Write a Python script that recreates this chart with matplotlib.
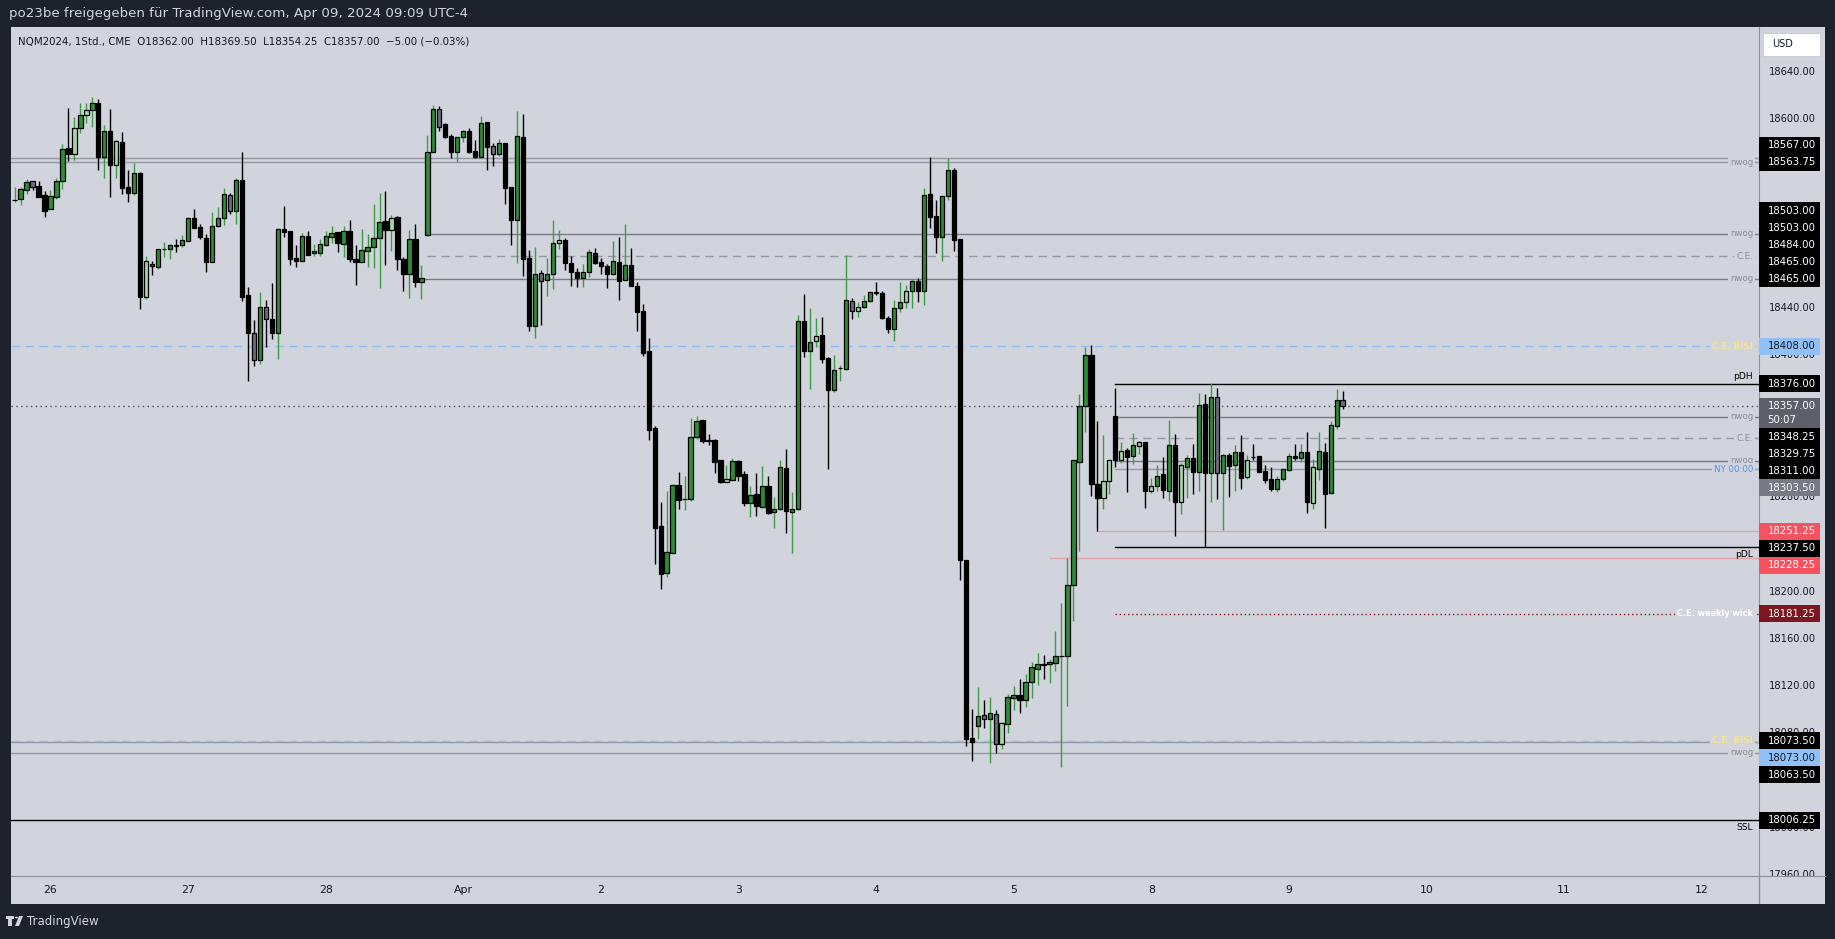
import matplotlib.pyplot as plt
from matplotlib.patches import Rectangle, Polygon, Circle

# NQM2024 1h candles, Mar 25 18:00 .. Apr 09 09:00
opens = [
    18531.5, 18532.2, 18539.9, 18547.8, 18543.3, 18535.6, 18523.8, 18534.5, 18547.5, 18575.4,
    18570.4, 18592.4, 18603.4, 18607.6, 18613.6, 18568.4, 18589.8, 18561.6, 18580.5, 18542.4,
    18537.9, 18554.3, 18449.8, 18477.7, 18475.2, 18490.0, 18489.9, 18493.3, 18493.3, 18496.7,
    18516.1, 18508.5, 18499.5, 18478.9, 18509.9, 18516.1, 18535.6, 18522.1, 18548.3, 18450.9,
    18419.3, 18395.9, 18440.8, 18430.6, 18419.3, 18506.8, 18505.1, 18482.3, 18480.3, 18500.9,
    18486.5, 18487.1, 18493.8, 18500.6, 18504.3, 18494.7, 18505.1, 18481.4, 18478.9, 18488.2,
    18491.6, 18499.2, 18513.6, 18506.0, 18517.0, 18482.0, 18469.3, 18498.3, 18462.5, 18502.3,
    18572.1, 18608.5, 18596.0, 18585.6, 18572.6, 18584.7, 18589.8, 18572.9, 18568.4, 18597.5,
    18577.1, 18570.9, 18579.7, 18542.4, 18515.0, 18584.7, 18482.3, 18425.2, 18469.6, 18464.2,
    18468.7, 18495.0, 18497.5, 18478.0, 18470.4, 18465.3, 18470.4, 18486.5, 18478.9, 18475.8,
    18469.3, 18478.9, 18464.2, 18476.6, 18458.8, 18437.7, 18403.8, 18338.3, 18255.6, 18216.1,
    18233.0, 18290.0, 18278.0, 18278.1, 18330.6, 18345.1, 18328.0, 18328.1, 18311.2, 18293.1,
    18294.8, 18310.3, 18299.6, 18275.4, 18282.4, 18271.9, 18289.2, 18267.2, 18269.7, 18304.4,
    18267.7, 18269.7, 18428.9, 18403.5, 18412.0, 18417.4, 18397.7, 18370.4, 18389.0, 18388.4,
    18446.1, 18437.4, 18440.9, 18446.1, 18453.7, 18452.6, 18431.5, 18422.2, 18440.2, 18445.4,
    18454.7, 18463.0, 18454.4, 18536.6, 18517.9, 18500.7, 18534.9, 18557.3, 18498.6, 18226.6,
    18076.3, 18086.0, 18095.3, 18091.9, 18096.4, 18070.7, 18087.6, 18109.6, 18112.2, 18107.9,
    18123.2, 18134.2, 18138.5, 18138.4, 18139.3, 18145.2, 18145.2, 18205.3, 18310.1, 18356.9,
    18400.1, 18290.9, 18279.6, 18293.4, 18348.5, 18311.2, 18319.7, 18315.1, 18323.6, 18326.4,
    18285.5, 18289.2, 18299.3, 18284.9, 18323.9, 18276.2, 18305.9, 18312.9, 18301.6, 18358.9,
    18300.2, 18364.5, 18300.7, 18315.4, 18307.5, 18318.0, 18297.4, 18314.3, 18314.6, 18302.2,
    18295.1, 18286.6, 18295.4, 18303.3, 18314.6, 18312.9, 18318.0, 18275.3, 18304.1, 18318.0,
    18283.8, 18340.0, 18362.0,
]
highs = [
    18542.4, 18543.0, 18549.5, 18548.0, 18547.8, 18539.3, 18540.1, 18550.0, 18579.1, 18609.3,
    18601.7, 18613.6, 18613.6, 18618.6, 18617.0, 18595.2, 18608.8, 18582.5, 18589.0, 18556.8,
    18563.0, 18555.7, 18484.2, 18480.0, 18490.0, 18496.1, 18494.4, 18498.6, 18502.0, 18517.6,
    18524.0, 18511.0, 18502.9, 18521.5, 18525.7, 18541.6, 18537.6, 18550.0, 18572.1, 18457.7,
    18430.0, 18453.8, 18447.0, 18461.4, 18508.0, 18526.3, 18505.5, 18493.6, 18503.5, 18505.4,
    18494.4, 18498.6, 18505.4, 18509.7, 18504.3, 18509.7, 18514.7, 18493.6, 18507.1, 18502.9,
    18528.3, 18537.6, 18539.3, 18518.7, 18518.0, 18483.0, 18506.3, 18511.3, 18476.6, 18587.0,
    18612.1, 18611.3, 18597.2, 18587.6, 18585.0, 18591.0, 18592.4, 18582.5, 18602.8, 18597.6,
    18580.2, 18583.4, 18580.0, 18542.5, 18607.1, 18604.5, 18489.0, 18491.9, 18472.1, 18482.3,
    18514.8, 18506.3, 18499.2, 18484.3, 18474.1, 18477.5, 18490.2, 18491.3, 18482.6, 18477.2,
    18496.9, 18500.3, 18511.4, 18491.0, 18461.9, 18443.6, 18414.5, 18340.3, 18275.9, 18285.2,
    18291.1, 18301.3, 18297.9, 18347.0, 18348.7, 18345.5, 18333.5, 18329.2, 18311.3, 18307.5,
    18313.2, 18311.2, 18301.9, 18289.5, 18300.5, 18306.4, 18297.9, 18280.1, 18311.5, 18320.8,
    18284.4, 18434.0, 18452.1, 18439.9, 18431.5, 18432.6, 18398.4, 18400.4, 18392.2, 18484.8,
    18448.8, 18445.4, 18451.2, 18454.0, 18462.3, 18454.7, 18433.0, 18446.8, 18462.3, 18459.9,
    18464.0, 18465.5, 18541.8, 18568.0, 18531.8, 18535.0, 18567.3, 18558.7, 18498.6, 18226.6,
    18100.9, 18119.5, 18107.8, 18110.9, 18099.5, 18089.8, 18113.0, 18120.1, 18125.7, 18130.2,
    18140.4, 18148.0, 18146.3, 18142.9, 18166.6, 18190.4, 18228.5, 18311.5, 18367.4, 18406.9,
    18408.9, 18344.5, 18332.6, 18312.3, 18372.2, 18326.4, 18321.6, 18334.3, 18327.6, 18326.5,
    18296.2, 18307.2, 18314.0, 18345.4, 18333.5, 18308.7, 18315.7, 18325.0, 18368.2, 18367.4,
    18376.4, 18372.2, 18316.5, 18317.1, 18323.9, 18332.4, 18315.7, 18325.0, 18314.8, 18307.2,
    18305.3, 18297.9, 18303.8, 18317.1, 18325.0, 18325.0, 18335.2, 18312.0, 18335.2, 18325.9,
    18344.2, 18371.6, 18369.5,
]
lows = [
    18530.3, 18527.5, 18537.0, 18540.4, 18534.5, 18517.6, 18523.8, 18532.8, 18540.7, 18565.0,
    18565.8, 18588.7, 18597.2, 18593.8, 18557.1, 18550.6, 18534.5, 18550.6, 18536.5, 18530.3,
    18535.9, 18439.4, 18447.8, 18468.2, 18473.2, 18483.7, 18481.7, 18487.6, 18492.0, 18496.7,
    18508.0, 18498.3, 18471.0, 18478.9, 18509.0, 18510.8, 18519.8, 18511.6, 18446.4, 18378.6,
    18391.4, 18392.5, 18407.5, 18413.7, 18397.3, 18500.6, 18476.9, 18475.2, 18480.0, 18485.0,
    18484.5, 18484.5, 18493.0, 18495.5, 18487.9, 18483.7, 18479.5, 18460.0, 18478.9, 18475.2,
    18474.3, 18457.4, 18476.9, 18488.8, 18472.7, 18454.9, 18449.0, 18458.3, 18448.1, 18501.5,
    18572.0, 18590.4, 18584.2, 18567.2, 18564.2, 18581.1, 18571.5, 18567.0, 18568.0, 18557.1,
    18560.5, 18569.2, 18528.3, 18493.6, 18478.6, 18467.3, 18421.0, 18415.1, 18426.1, 18450.6,
    18456.6, 18489.9, 18472.7, 18459.1, 18458.3, 18458.3, 18466.7, 18477.5, 18469.0, 18457.4,
    18468.4, 18447.0, 18464.0, 18459.0, 18421.0, 18399.8, 18328.7, 18223.4, 18202.5, 18212.6,
    18232.4, 18270.2, 18269.1, 18276.5, 18329.0, 18325.6, 18324.2, 18300.7, 18292.3, 18293.0,
    18294.5, 18294.0, 18272.5, 18263.5, 18264.3, 18271.0, 18266.0, 18254.2, 18269.0, 18249.9,
    18233.0, 18269.0, 18399.0, 18371.3, 18407.5, 18393.2, 18303.7, 18369.4, 18378.7, 18388.0,
    18431.2, 18432.2, 18440.0, 18445.4, 18451.2, 18431.2, 18418.8, 18411.9, 18436.4, 18440.2,
    18440.2, 18445.4, 18443.0, 18507.6, 18486.8, 18480.3, 18531.8, 18488.2, 18209.4, 18069.4,
    18056.3, 18075.3, 18084.3, 18054.6, 18063.2, 18066.4, 18080.5, 18099.7, 18097.5, 18102.6,
    18110.2, 18121.2, 18126.3, 18122.3, 18133.0, 18051.7, 18103.4, 18175.4, 18234.7, 18335.5,
    18281.3, 18251.3, 18270.3, 18282.9, 18305.8, 18309.2, 18284.4, 18308.1, 18316.6, 18271.1,
    18283.5, 18285.5, 18279.6, 18276.8, 18247.4, 18265.7, 18279.6, 18282.7, 18285.5, 18237.5,
    18276.2, 18278.7, 18252.5, 18280.4, 18285.5, 18287.2, 18295.7, 18311.5, 18301.5, 18292.3,
    18285.5, 18284.5, 18294.0, 18302.4, 18311.5, 18310.1, 18266.9, 18270.3, 18294.8, 18254.2,
    18283.0, 18337.4, 18354.25,
]
closes = [
    18532.0, 18540.7, 18546.6, 18543.0, 18534.5, 18522.6, 18534.8, 18547.5, 18574.6, 18570.4,
    18592.4, 18603.4, 18607.6, 18613.6, 18568.4, 18589.8, 18561.6, 18581.6, 18542.1, 18537.9,
    18554.3, 18449.8, 18479.7, 18476.1, 18489.9, 18490.2, 18493.3, 18493.0, 18497.5, 18516.1,
    18508.3, 18500.0, 18478.9, 18509.4, 18516.1, 18536.5, 18522.1, 18548.3, 18449.8, 18419.3,
    18395.9, 18440.8, 18430.6, 18419.3, 18506.8, 18504.9, 18482.0, 18480.3, 18500.9, 18485.4,
    18488.2, 18494.1, 18500.9, 18503.5, 18495.5, 18505.1, 18482.0, 18478.9, 18489.0, 18491.6,
    18499.2, 18512.8, 18506.0, 18516.1, 18482.0, 18469.3, 18498.3, 18462.5, 18465.3, 18572.1,
    18608.5, 18593.8, 18585.3, 18572.6, 18584.7, 18589.8, 18572.3, 18568.4, 18596.6, 18576.9,
    18570.9, 18579.7, 18542.1, 18515.0, 18585.6, 18482.0, 18425.2, 18468.7, 18463.3, 18468.7,
    18495.0, 18497.5, 18478.0, 18470.4, 18465.9, 18470.4, 18487.4, 18478.6, 18476.1, 18469.3,
    18479.7, 18463.4, 18476.6, 18459.1, 18437.1, 18402.4, 18337.2, 18254.2, 18215.2, 18233.6,
    18290.0, 18277.3, 18278.0, 18330.6, 18344.2, 18327.8, 18327.5, 18310.1, 18293.1, 18295.1,
    18310.3, 18298.2, 18275.4, 18281.6, 18272.8, 18289.2, 18266.9, 18269.7, 18305.3, 18268.6,
    18269.7, 18428.9, 18403.5, 18411.1, 18416.2, 18397.0, 18370.4, 18387.7, 18389.1, 18446.7,
    18437.4, 18440.9, 18446.1, 18453.7, 18453.2, 18431.9, 18422.2, 18440.2, 18445.0, 18454.4,
    18463.0, 18454.4, 18535.6, 18517.6, 18500.7, 18534.9, 18557.0, 18498.2, 18226.6, 18075.3,
    18072.5, 18094.6, 18091.9, 18097.0, 18070.8, 18088.4, 18110.5, 18112.2, 18107.9, 18123.2,
    18135.9, 18138.4, 18138.0, 18140.1, 18145.2, 18145.2, 18205.3, 18311.2, 18356.9, 18400.1,
    18291.4, 18279.6, 18293.4, 18311.2, 18311.2, 18318.8, 18314.3, 18323.9, 18326.4, 18285.5,
    18289.2, 18297.6, 18285.8, 18323.9, 18276.2, 18307.0, 18312.9, 18301.6, 18358.1, 18300.7,
    18364.5, 18300.7, 18315.4, 18306.7, 18318.0, 18296.5, 18311.2, 18314.0, 18301.6, 18294.8,
    18287.2, 18295.1, 18303.6, 18314.6, 18312.9, 18318.0, 18276.2, 18305.3, 18318.8, 18283.0,
    18341.1, 18362.0, 18357.0,
]

day_labels = ['26', '27', '28', 'Apr', '2', '3', '4', '5', '8', '9', '10', '11', '12']
first_label_bar = 6
bars_per_day = 23

# drawn levels: price, first bar (None = from the left edge), text, kind
level_prices = [18567.0, 18563.75, 18503.0, 18484.0, 18465.0, 18408.0, 18376.0, 18348.25,
                18329.75, 18311.0, 18303.5, 18251.25, 18237.5, 18228.25, 18181.25, 18073.0,
                18063.5, 18073.5, 18006.25]
level_starts = [None, None, 69, 69, 68, None, 184, 184, 184, 184, 184, 181, 184, 173, 184,
                None, None, None, None]
level_texts = ['nwog', 'nwog', 'nwog', 'C.E.', 'nwog', 'C.E. BISI', 'pDH', 'nwog', 'C.E.',
               'nwog', 'NY 00:00', '', 'pDL', '', 'C.E. weekly wick', 'nwog', 'nwog',
               'C.E. BISI', 'SSL']
level_kinds = ['old', 'old', 'nwog', 'ce', 'nwog', 'bisi', 'black', 'nwog', 'ce', 'nwog',
               'ny', 'pink', 'black_low', 'pink', 'weekly', 'old', 'old', 'bisi', 'black_low']

# price scale badges
badge_prices = [18567.0, 18563.75, 18503.0, 18503.0, 18484.0, 18465.0, 18465.0, 18408.0,
                18376.0, 18348.25, 18329.75, 18311.0, 18303.5, 18251.25, 18237.5, 18228.25,
                18181.25, 18073.5, 18073.0, 18063.5, 18006.25]
badge_kinds = ['black', 'black', 'black', 'black', 'black', 'black', 'black', 'blue',
               'black', 'black', 'black', 'black', 'gray', 'red', 'black', 'red',
               'darkred', 'black', 'blue', 'black', 'black']
price_ticks = list(range(17960, 18641, 40))
last_price = 18357.0
countdown = '50:07'

W, H = 1835, 939
BG = '#1e222d'
PANE = '#d1d4dc'
SEP = '#8c8f98'
K = 1.1807  # pixels per point
Y0, Y1 = 17959.1, 18678.2
X0, X1 = -0.6, 291.6

fig = plt.figure(figsize=(W / 100, H / 100), dpi=100, facecolor=BG)


def box(x0, y0, x1, y1):
    return [x0 / W, 1 - y1 / H, (x1 - x0) / W, (y1 - y0) / H]


ax = fig.add_axes(box(11, 27, 1759, 876), facecolor=PANE)
axp = fig.add_axes(box(1759, 27, 1825, 876), facecolor=PANE)
axt = fig.add_axes(box(11, 876, 1825, 904), facecolor=PANE)
for a in (ax, axp, axt):
    a.set_xticks([])
    a.set_yticks([])
    for s in a.spines.values():
        s.set_visible(False)
axp.spines['left'].set_visible(True)
axp.spines['left'].set_color(SEP)
axt.spines['top'].set_visible(True)
axt.spines['top'].set_color(SEP)
sep_x = (1759 - 11) / (1825 - 11)
axt.plot([sep_x, sep_x], [0, 1], color=SEP, lw=1, transform=axt.transAxes)

ax.set_xlim(X0, X1)
ax.set_ylim(Y0, Y1)
axp.set_xlim(0, 1)
axp.set_ylim(Y0, Y1)

# candles (inside bars get lighter colours)
n = len(opens)
x = list(range(n))
fills, wick_cols = [], []
for i in x:
    up = closes[i] >= opens[i]
    inside = i > 0 and highs[i] <= highs[i - 1] and lows[i] >= lows[i - 1]
    if up:
        fills.append('#a5d6a7' if inside else '#2e8b36')
        wick_cols.append('#3d9a43')
    else:
        fills.append('#6b6e79' if inside else '#000000')
        wick_cols.append('#000000')
ax.vlines(x, lows, highs, colors=wick_cols, lw=1.0, zorder=3)
bottoms = [min(o, c) for o, c in zip(opens, closes)]
heights = [max(abs(c - o), 0.4) for o, c in zip(opens, closes)]
ax.bar(x, heights, bottom=bottoms, width=0.72, color=fills, edgecolor='black',
       linewidth=0.9, zorder=4)

# levels
styles = {
    'old': dict(color='#9598a1', ls='-', lw=1.0, tc='#8a8d96'),
    'nwog': dict(color='#787b86', ls='-', lw=1.0, tc='#8a8d96'),
    'ce': dict(color='#9598a1', ls=(0, (6, 4)), lw=1.0, tc='#8a8d96'),
    'bisi': dict(color='#8fbcf5', ls=(0, (6, 4)), lw=1.0, tc='#f3e58f'),
    'black': dict(color='#000000', ls='-', lw=1.0, tc='#000000'),
    'black_low': dict(color='#000000', ls='-', lw=1.0, tc='#000000'),
    'ny': dict(color='#9598a1', ls='-', lw=1.0, tc='#5b8def'),
    'pink': dict(color='#e0a3ac', ls='-', lw=1.0, tc='#e0a3ac'),
    'weekly': dict(color='#801922', ls=(0, (1, 2)), lw=1.0, tc='#ffffff'),
}
text_x = (1753 - 14.6) / 5.982
for p, st, t, kd in zip(level_prices, level_starts, level_texts, level_kinds):
    s = styles[kd]
    xs = X0 if st is None else st
    ax.plot([xs, X1], [p, p], color=s['color'], ls=s['ls'], lw=s['lw'], zorder=2)
    if not t:
        continue
    if kd in ('black', 'black_low'):
        dy = 7.5 / K if kd == 'black' else -7.5 / K
        ax.text(text_x, p + dy, t, ha='right', va='center', fontsize=6.6,
                color=s['tc'], zorder=6)
    elif kd == 'weekly':
        ax.text(text_x, p, t, ha='right', va='center', fontsize=5.9, color=s['tc'],
                fontweight='bold', zorder=7,
                bbox=dict(boxstyle='square,pad=0.25', fc=PANE, ec='none'))
    else:
        ax.text(text_x, p, t, ha='right', va='center', fontsize=6.2, color=s['tc'],
                fontweight='bold' if kd == 'bisi' else 'normal',
                zorder=7 if kd == 'bisi' else 6,
                bbox=dict(boxstyle='square,pad=0.25', fc=PANE, ec='none'))

# current price line
ax.axhline(last_price, color='#4a4d57', ls=(0, (1, 2.5)), lw=1.0, zorder=2)

# header legend
ax.text(7 / 1748, 1 - 14 / 849,
        'NQM2024, 1Std., CME  O18362.00  H18369.50  L18354.25  C18357.00  \u22125.00 (\u22120.03%)',
        transform=ax.transAxes, ha='left', va='center', fontsize=7.4, color='#131722')

# price scale badges (stacked away from the current price badge)
bh = 17 / K
badge_fc = {'black': '#000000', 'blue': '#90c0f8', 'gray': '#787b86',
            'red': '#f7525f', 'darkred': '#7e1620'}
cur_top = last_price + 8 / K
cur_bot = last_price - 22 / K
axp.add_patch(Rectangle((0.0, cur_bot), 0.92, cur_top - cur_bot, fc='#5d606b', ec='none',
                        zorder=3))
axp.text(0.5, last_price, f'{last_price:.2f}', ha='center', va='center', fontsize=7.3,
         color='white', zorder=4)
axp.text(0.12, last_price - 14 / K, countdown, ha='left', va='center', fontsize=7.3,
         color='white', zorder=4)

centres = {}
above = sorted([i for i, p in enumerate(badge_prices) if p > last_price],
               key=lambda i: badge_prices[i])
limit = cur_top
for i in above:
    c = max(badge_prices[i], limit + bh / 2)
    centres[i] = c
    limit = c + bh / 2
below = sorted([i for i, p in enumerate(badge_prices) if p < last_price],
               key=lambda i: -badge_prices[i])
limit = cur_bot
for i in below:
    c = min(badge_prices[i], limit - bh / 2)
    centres[i] = c
    limit = c - bh / 2
for i, c in centres.items():
    kd = badge_kinds[i]
    axp.add_patch(Rectangle((0.0, c - bh / 2), 0.92, bh, fc=badge_fc[kd], ec='none',
                            zorder=3))
    axp.text(0.5, c, f'{badge_prices[i]:.2f}', ha='center', va='center', fontsize=7.3,
             color='#131722' if kd == 'blue' else 'white', zorder=4)

# price ticks: skip the ones fully hidden behind a badge
for t in price_ticks:
    hidden = cur_bot - 2 / K < t < cur_top + 2 / K
    hidden = hidden or any(abs(t - c) < 5.5 / K for c in centres.values())
    if hidden:
        continue
    axp.text(0.5, t, f'{t:.2f}', ha='center', va='center', fontsize=7.1,
             color='#131722', zorder=1, clip_on=True)

# USD box
axp.add_patch(Rectangle((0.06, Y1 - 29 / K), 0.86, 23 / K, fc='white', ec='#c8cbd3',
                        lw=0.6, zorder=3))
axp.text(0.2, Y1 - 17.5 / K, 'USD', ha='left', va='center', fontsize=7.0,
         color='#131722', zorder=4)

# time scale
axt.set_xlim(X0, X0 + (X1 - X0) * (1825 - 11) / (1759 - 11))
axt.set_ylim(0, 1)
for k, lab in enumerate(day_labels):
    axt.text(first_label_bar + k * bars_per_day, 0.5, lab, ha='center', va='center',
             fontsize=7.8, color='#131722')

# texts outside the chart
fig.text(9 / W, 1 - 13 / H, 'po23be freigegeben für TradingView.com, Apr 09, 2024 09:09 UTC-4',
         ha='left', va='center', fontsize=9.6, color='#d1d4dc')

# TradingView logo
fig.patches.append(Rectangle((8 / W, 1 - 926 / H), 4 / W, 8 / H, fc='#d1d4dc',
                             transform=fig.transFigure, figure=fig))
fig.patches.append(Rectangle((6 / W, 1 - 919 / H), 8 / W, 3 / H, fc='#d1d4dc',
                             transform=fig.transFigure, figure=fig))
fig.patches.append(Circle((16.5 / W, 1 - 917.5 / H), 1.6 / W, fc='#d1d4dc',
                          transform=fig.transFigure, figure=fig))
fig.patches.append(Polygon([(19 / W, 1 - 916 / H), (23 / W, 1 - 916 / H),
                            (19 / W, 1 - 926 / H), (15 / W, 1 - 926 / H)],
                           fc='#d1d4dc', transform=fig.transFigure, figure=fig))
fig.text(27 / W, 1 - 921 / H, 'TradingView', ha='left', va='center', fontsize=8.5,
         color='#d1d4dc')

fig.savefig('out.png', dpi=100, facecolor=BG)
